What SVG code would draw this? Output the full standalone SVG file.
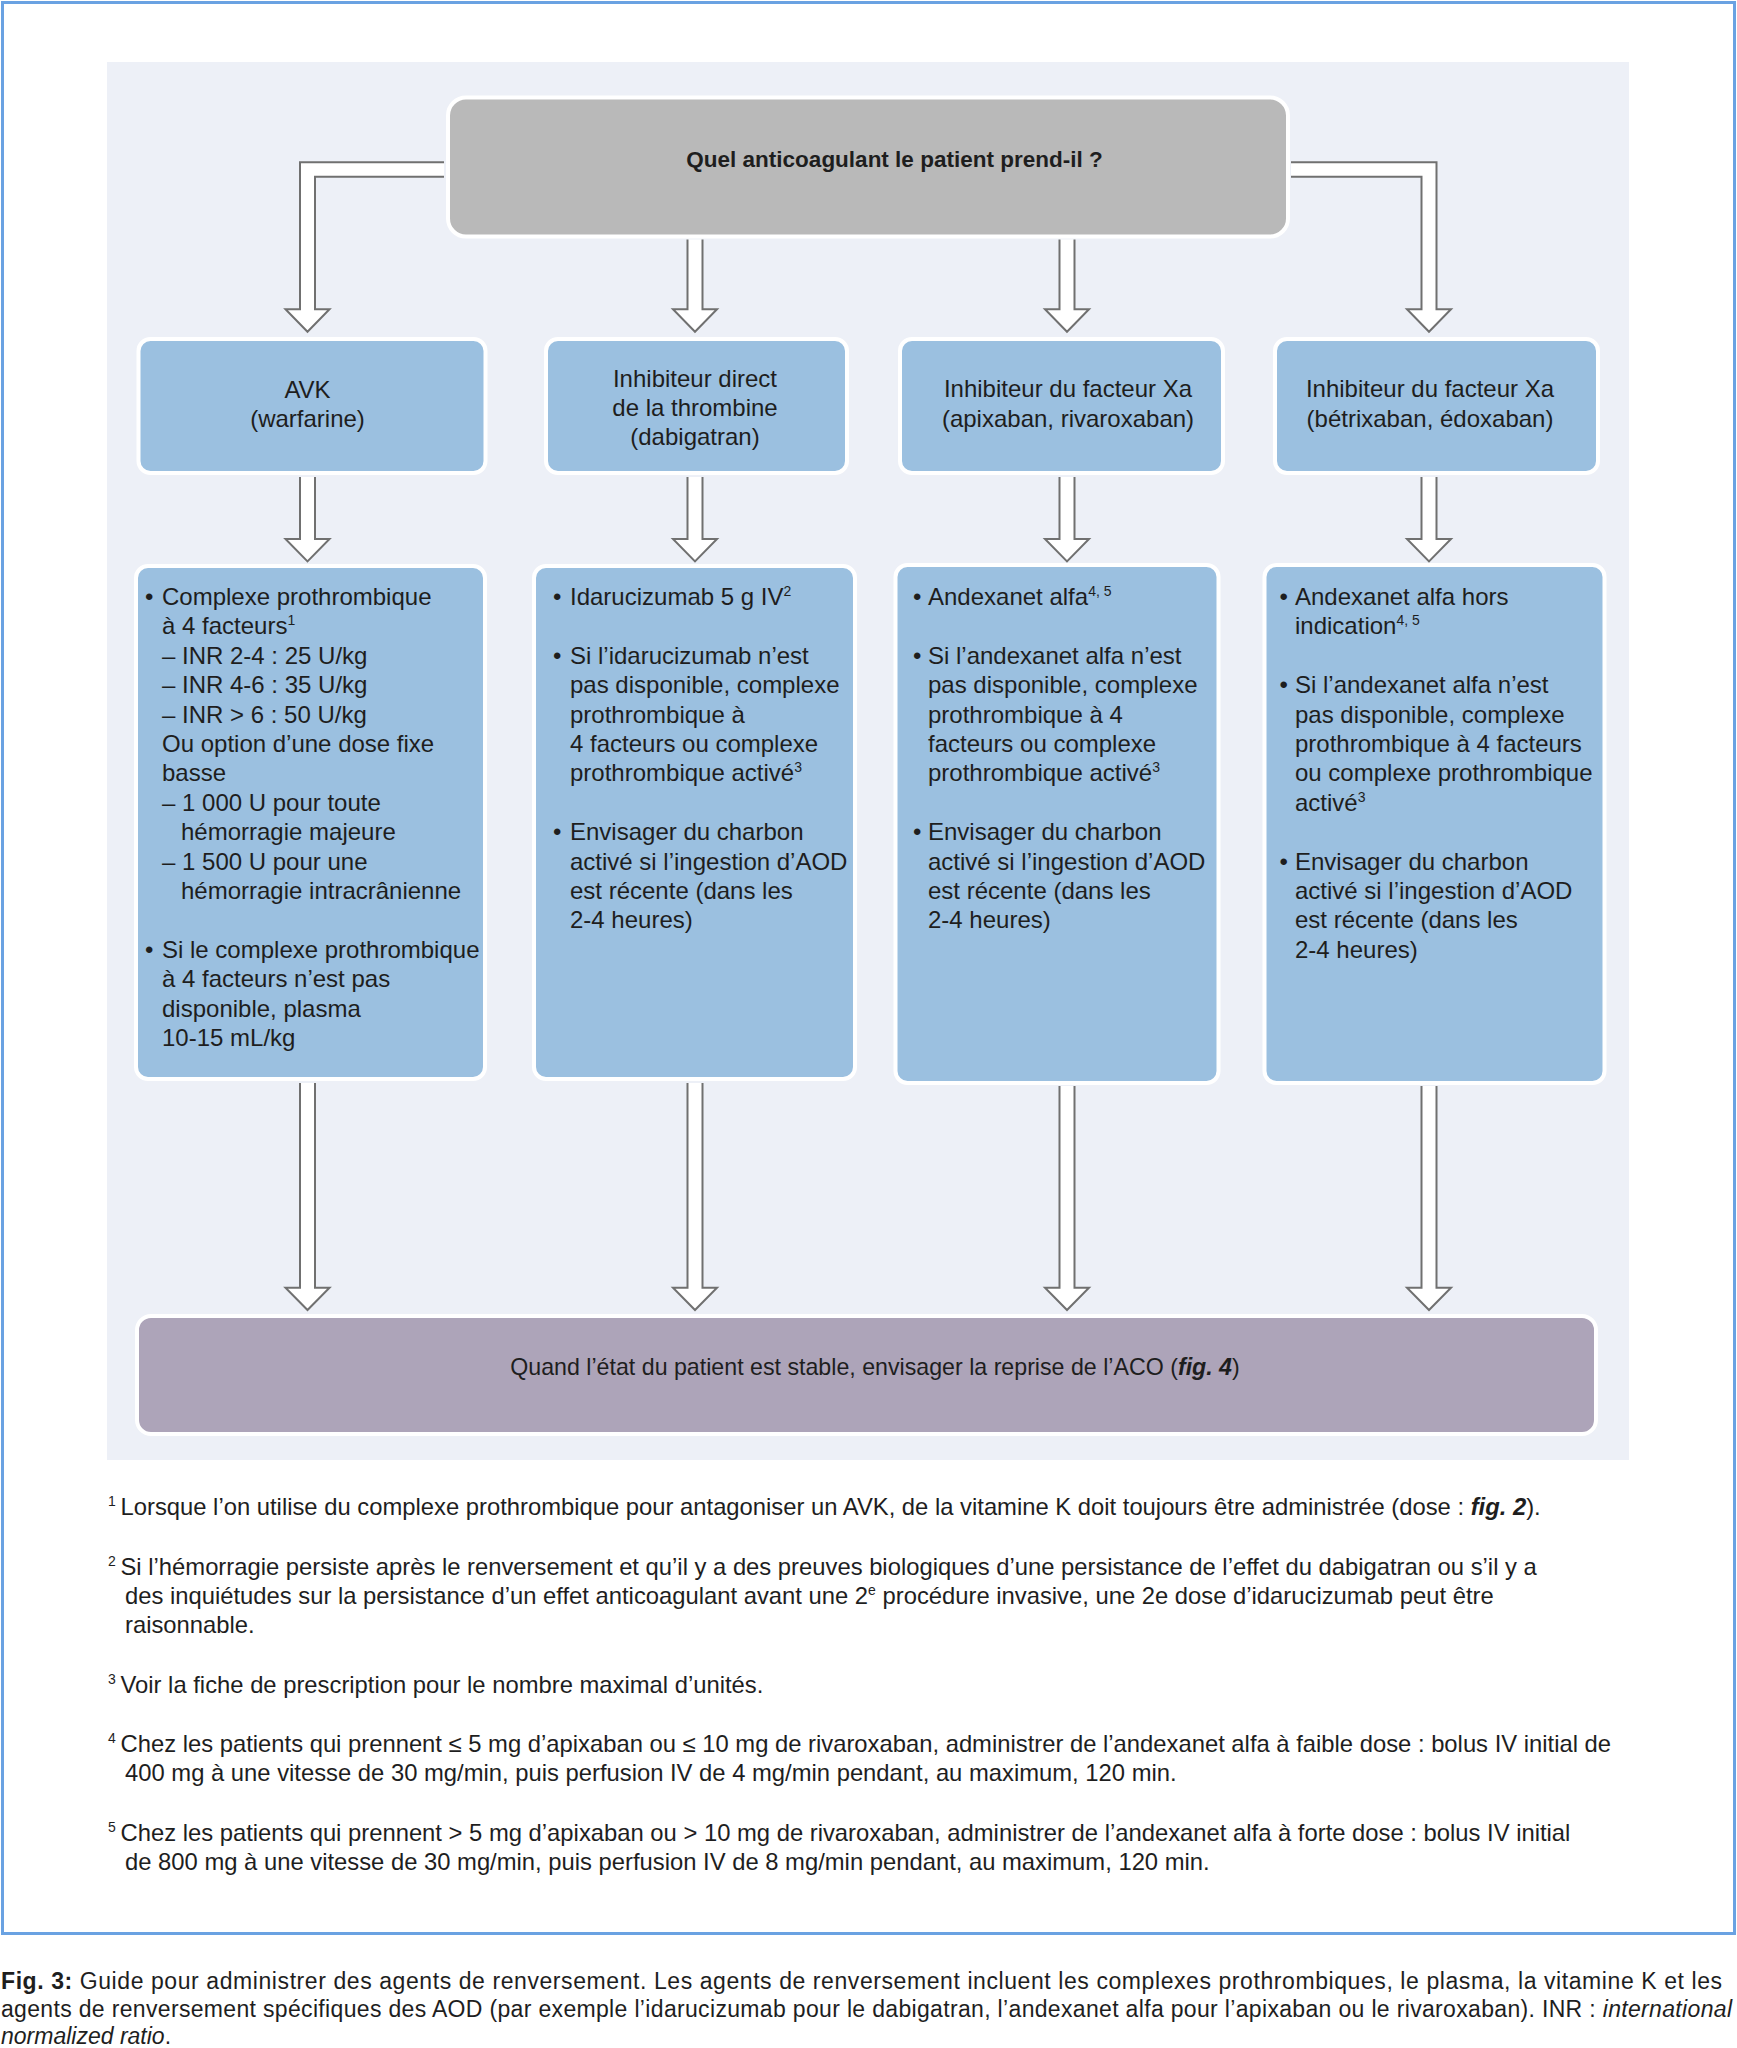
<svg xmlns="http://www.w3.org/2000/svg" width="1737" height="2048" viewBox="0 0 1737 2048">
<style>
.frame{fill:none;stroke:#6aa2e2;stroke-width:3}
.panel{fill:#edf0f7}
.q{fill:#b9b9b9;stroke:#fff;stroke-width:4}
.blue{fill:#9bc0e0;stroke:#fff;stroke-width:4}
.end{fill:#ada4b9;stroke:#fff;stroke-width:4}
.arrow{fill:#fff;stroke:#707070;stroke-width:2;stroke-linejoin:miter}
text{font-family:"Liberation Sans",Arial,sans-serif;fill:#1e1e1e}
.t{font-size:24px}
.c{text-anchor:middle}
.fn{font-size:23.8px}
.cap{font-size:23px}
.b{font-weight:bold}
.i{font-style:italic}
</style>
<rect width="1737" height="2048" fill="#fff"/>
<rect class="frame" x="2.5" y="2.5" width="1732" height="1931"/>
<rect class="panel" x="107" y="62" width="1522" height="1398"/>

<g id="connectors">
<path class="arrow" d="M444,162.3 H300 V309.3 H285.5 L307.5,331.7 L329.5,309.3 H315 V176.7 H444"/>
<path class="arrow" d="M687.5,239.5 V309.3 H673 L695,331.7 L717,309.3 H702.5 V239.5"/>
<path class="arrow" d="M1059.5,239.5 V309.3 H1045 L1067,331.7 L1089,309.3 H1074.5 V239.5"/>
<path class="arrow" d="M1291,162.3 H1436.5 V309.3 H1451 L1429,331.7 L1407,309.3 H1421.5 V176.7 H1291"/>

<path class="arrow" d="M300,477 V539 H285.5 L307.5,561.4 L329.5,539 H315 V477"/>
<path class="arrow" d="M687.5,477 V539 H673 L695,561.4 L717,539 H702.5 V477"/>
<path class="arrow" d="M1059.5,477 V539 H1045 L1067,561.4 L1089,539 H1074.5 V477"/>
<path class="arrow" d="M1421.5,477 V539 H1407 L1429,561.4 L1451,539 H1436.5 V477"/>

<path class="arrow" d="M300,1083 V1287.7 H285.5 L307.5,1310 L329.5,1287.7 H315 V1083"/>
<path class="arrow" d="M687.5,1083 V1287.7 H673 L695,1310 L717,1287.7 H702.5 V1083"/>
<path class="arrow" d="M1059.5,1086 V1287.7 H1045 L1067,1310 L1089,1287.7 H1074.5 V1086"/>
<path class="arrow" d="M1421.5,1086 V1287.7 H1407 L1429,1310 L1451,1287.7 H1436.5 V1086"/>
</g>

<g id="question">
<rect class="q" x="448" y="97.5" width="840" height="139" rx="18"/>
<text class="b c" x="894.5" y="167" font-size="22.5">Quel anticoagulant le patient prend-il ?</text>
</g>

<g id="avk">
<rect class="blue" x="138.5" y="339" width="347" height="134" rx="12"/>
<text class="t c" x="307.5" y="397.5">AVK</text>
<text class="t c" x="307.5" y="427">(warfarine)</text>
</g>

<g id="dabigatran">
<rect class="blue" x="546" y="339" width="301" height="134" rx="12"/>
<text class="t c" x="695" y="387">Inhibiteur direct</text>
<text class="t c" x="695" y="416">de la thrombine</text>
<text class="t c" x="695" y="445">(dabigatran)</text>
</g>

<g id="xa1">
<rect class="blue" x="900" y="339" width="323" height="134" rx="12"/>
<text class="t c" x="1068" y="397">Inhibiteur du facteur Xa</text>
<text class="t c" x="1068" y="427">(apixaban, rivaroxaban)</text>
</g>

<g id="xa2">
<rect class="blue" x="1275" y="339" width="323" height="134" rx="12"/>
<text class="t c" x="1430" y="397">Inhibiteur du facteur Xa</text>
<text class="t c" x="1430" y="427">(bétrixaban, édoxaban)</text>
</g>

<g id="avk-treatment">
<rect class="blue" x="136" y="566" width="349" height="513" rx="12"/>
<text class="t" y="605"><tspan x="145">•</tspan><tspan x="162">Complexe prothrombique</tspan></text>
<text class="t" x="162" y="634.4">à 4 facteurs<tspan font-size="14" dy="-9">1</tspan></text>
<text class="t" x="162" y="663.8">– INR 2-4 : 25 U/kg</text>
<text class="t" x="162" y="693.2">– INR 4-6 : 35 U/kg</text>
<text class="t" x="162" y="722.6">– INR &gt; 6 : 50 U/kg</text>
<text class="t" x="162" y="752">Ou option d’une dose fixe</text>
<text class="t" x="162" y="781.4">basse</text>
<text class="t" x="162" y="810.8">– 1 000 U pour toute</text>
<text class="t" x="181" y="840.2">hémorragie majeure</text>
<text class="t" x="162" y="869.6">– 1 500 U pour une</text>
<text class="t" x="181" y="899">hémorragie intracrânienne</text>
<text class="t" y="957.8"><tspan x="145">•</tspan><tspan x="162">Si le complexe prothrombique</tspan></text>
<text class="t" x="162" y="987.2">à 4 facteurs n’est pas</text>
<text class="t" x="162" y="1016.6">disponible, plasma</text>
<text class="t" x="162" y="1046">10-15 mL/kg</text>
</g>

<g id="dabigatran-treatment">
<rect class="blue" x="534" y="566" width="321" height="513" rx="12"/>
<text class="t" y="605"><tspan x="553">•</tspan><tspan x="570">Idarucizumab 5 g IV</tspan><tspan font-size="14" dy="-9">2</tspan></text>
<text class="t" y="663.8"><tspan x="553">•</tspan><tspan x="570">Si l’idarucizumab n’est</tspan></text>
<text class="t" x="570" y="693.2">pas disponible, complexe</text>
<text class="t" x="570" y="722.6">prothrombique à</text>
<text class="t" x="570" y="752">4 facteurs ou complexe</text>
<text class="t" x="570" y="781.4">prothrombique activé<tspan font-size="14" dy="-9">3</tspan></text>
<text class="t" y="840.2"><tspan x="553">•</tspan><tspan x="570">Envisager du charbon</tspan></text>
<text class="t" x="570" y="869.6">activé si l’ingestion d’AOD</text>
<text class="t" x="570" y="899">est récente (dans les</text>
<text class="t" x="570" y="928.4">2-4 heures)</text>
</g>

<g id="xa1-treatment">
<rect class="blue" x="895.5" y="565" width="323" height="518" rx="12"/>
<text class="t" y="605"><tspan x="913">•</tspan><tspan x="928">Andexanet alfa</tspan><tspan font-size="14" dy="-9">4, 5</tspan></text>
<text class="t" y="663.8"><tspan x="913">•</tspan><tspan x="928">Si l’andexanet alfa n’est</tspan></text>
<text class="t" x="928" y="693.2">pas disponible, complexe</text>
<text class="t" x="928" y="722.6">prothrombique à 4</text>
<text class="t" x="928" y="752">facteurs ou complexe</text>
<text class="t" x="928" y="781.4">prothrombique activé<tspan font-size="14" dy="-9">3</tspan></text>
<text class="t" y="840.2"><tspan x="913">•</tspan><tspan x="928">Envisager du charbon</tspan></text>
<text class="t" x="928" y="869.6">activé si l’ingestion d’AOD</text>
<text class="t" x="928" y="899">est récente (dans les</text>
<text class="t" x="928" y="928.4">2-4 heures)</text>
</g>

<g id="xa2-treatment">
<rect class="blue" x="1264.5" y="565" width="340" height="518" rx="12"/>
<text class="t" y="605"><tspan x="1279.5">•</tspan><tspan x="1295">Andexanet alfa hors</tspan></text>
<text class="t" x="1295" y="634.4">indication<tspan font-size="14" dy="-9">4, 5</tspan></text>
<text class="t" y="693.2"><tspan x="1279.5">•</tspan><tspan x="1295">Si l’andexanet alfa n’est</tspan></text>
<text class="t" x="1295" y="722.6">pas disponible, complexe</text>
<text class="t" x="1295" y="752">prothrombique à 4 facteurs</text>
<text class="t" x="1295" y="781.4">ou complexe prothrombique</text>
<text class="t" x="1295" y="810.8">activé<tspan font-size="14" dy="-9">3</tspan></text>
<text class="t" y="869.6"><tspan x="1279.5">•</tspan><tspan x="1295">Envisager du charbon</tspan></text>
<text class="t" x="1295" y="899">activé si l’ingestion d’AOD</text>
<text class="t" x="1295" y="928.4">est récente (dans les</text>
<text class="t" x="1295" y="957.8">2-4 heures)</text>
</g>

<g id="resume">
<rect class="end" x="137" y="1316" width="1459" height="118" rx="14"/>
<text class="c" font-size="23.2" x="875" y="1375">Quand l’état du patient est stable, envisager la reprise de l’ACO (<tspan class="b i">fig. 4</tspan>)</text>
</g>

<g id="footnotes">
<text font-size="14" x="108" y="1506">1</text>
<text class="fn" x="120.5" y="1515">Lorsque l’on utilise du complexe prothrombique pour antagoniser un AVK, de la vitamine K doit toujours être administrée (dose : <tspan class="b i">fig. 2</tspan>).</text>
<text font-size="14" x="108" y="1566">2</text>
<text class="fn" x="120.5" y="1575">Si l’hémorragie persiste après le renversement et qu’il y a des preuves biologiques d’une persistance de l’effet du dabigatran ou s’il y a</text>
<text class="fn" x="125" y="1604">des inquiétudes sur la persistance d’un effet anticoagulant avant une 2<tspan font-size="14" dy="-9">e</tspan><tspan dy="9"> procédure invasive, une 2e dose d’idarucizumab peut être</tspan></text>
<text class="fn" x="125" y="1633">raisonnable.</text>
<text font-size="14" x="108" y="1683.5">3</text>
<text class="fn" x="120.5" y="1692.5">Voir la fiche de prescription pour le nombre maximal d’unités.</text>
<text font-size="14" x="108" y="1742.5">4</text>
<text class="fn" x="120.5" y="1751.5">Chez les patients qui prennent ≤ 5 mg d’apixaban ou ≤ 10 mg de rivaroxaban, administrer de l’andexanet alfa à faible dose : bolus IV initial de</text>
<text class="fn" x="125" y="1780.5">400 mg à une vitesse de 30 mg/min, puis perfusion IV de 4 mg/min pendant, au maximum, 120 min.</text>
<text font-size="14" x="108" y="1832">5</text>
<text class="fn" x="120.5" y="1841">Chez les patients qui prennent &gt; 5 mg d’apixaban ou &gt; 10 mg de rivaroxaban, administrer de l’andexanet alfa à forte dose : bolus IV initial</text>
<text class="fn" x="125" y="1869.5">de 800 mg à une vitesse de 30 mg/min, puis perfusion IV de 8 mg/min pendant, au maximum, 120 min.</text>
</g>

<g id="caption">
<text class="cap" x="1" y="1989" textLength="1721" lengthAdjust="spacing"><tspan class="b">Fig. 3:</tspan> Guide pour administrer des agents de renversement. Les agents de renversement incluent les complexes prothrombiques, le plasma, la vitamine K et les</text>
<text class="cap" x="1" y="2016.5" textLength="1731" lengthAdjust="spacing">agents de renversement spécifiques des AOD (par exemple l’idarucizumab pour le dabigatran, l’andexanet alfa pour l’apixaban ou le rivaroxaban). INR : <tspan class="i">international</tspan></text>
<text class="cap" x="1" y="2044"><tspan class="i">normalized ratio</tspan>.</text>
</g>
</svg>
